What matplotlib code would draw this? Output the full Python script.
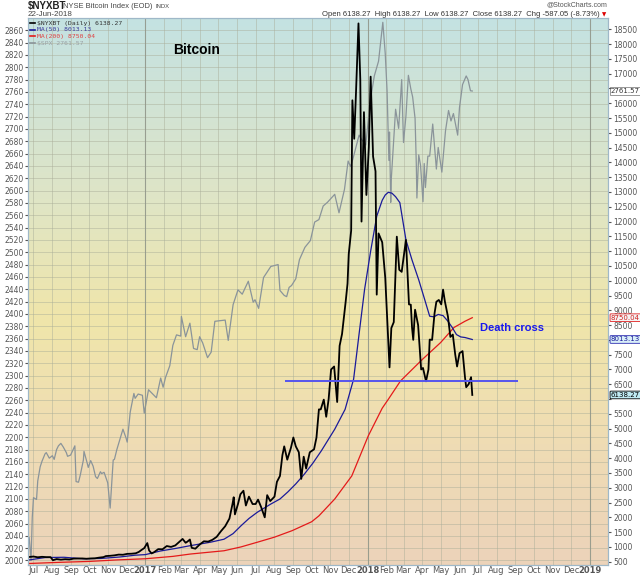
import matplotlib
matplotlib.use("Agg")
import matplotlib.pyplot as plt
from matplotlib.colors import LinearSegmentedColormap
from matplotlib.lines import Line2D
from matplotlib.transforms import blended_transform_factory
import numpy as np
import pandas as pd

# ---- values ----
spx_dates = [
    "2016-06-24", "2016-06-27", "2016-06-29", "2016-07-01", "2016-07-06", "2016-07-08", "2016-07-12",
    "2016-07-15", "2016-07-20", "2016-07-22", "2016-07-27", "2016-08-01", "2016-08-04", "2016-08-08",
    "2016-08-11", "2016-08-15", "2016-08-19", "2016-08-24", "2016-08-26", "2016-08-31", "2016-09-07",
    "2016-09-09", "2016-09-13", "2016-09-16", "2016-09-21", "2016-09-22", "2016-09-27", "2016-09-29",
    "2016-10-03", "2016-10-07", "2016-10-11", "2016-10-14", "2016-10-19", "2016-10-21", "2016-10-25",
    "2016-10-31", "2016-11-04", "2016-11-07", "2016-11-09", "2016-11-11", "2016-11-15", "2016-11-22",
    "2016-11-25", "2016-11-30", "2016-12-02", "2016-12-07", "2016-12-13", "2016-12-15", "2016-12-20",
    "2016-12-27", "2016-12-30", "2017-01-06", "2017-01-12", "2017-01-19", "2017-01-26", "2017-01-30",
    "2017-02-03", "2017-02-10", "2017-02-15", "2017-02-21", "2017-02-28", "2017-03-01", "2017-03-08",
    "2017-03-15", "2017-03-21", "2017-03-27", "2017-03-31", "2017-04-05", "2017-04-13", "2017-04-19",
    "2017-04-25", "2017-05-03", "2017-05-12", "2017-05-17", "2017-05-25", "2017-06-02", "2017-06-09",
    "2017-06-19", "2017-06-27", "2017-06-30", "2017-07-06", "2017-07-14", "2017-07-26", "2017-08-07",
    "2017-08-10", "2017-08-17", "2017-08-21", "2017-08-25", "2017-08-29", "2017-09-05", "2017-09-11",
    "2017-09-20", "2017-09-29", "2017-10-06", "2017-10-13", "2017-10-20", "2017-10-27", "2017-11-08",
    "2017-11-15", "2017-11-24", "2017-11-30", "2017-12-04", "2017-12-08", "2017-12-18", "2017-12-22",
    "2017-12-29", "2018-01-05", "2018-01-12", "2018-01-19", "2018-01-26", "2018-01-30", "2018-02-02",
    "2018-02-05", "2018-02-06", "2018-02-08", "2018-02-09", "2018-02-14", "2018-02-16", "2018-02-21",
    "2018-02-26", "2018-03-01", "2018-03-05", "2018-03-09", "2018-03-13", "2018-03-16", "2018-03-20",
    "2018-03-22", "2018-03-23", "2018-03-26", "2018-03-29", "2018-04-02", "2018-04-04", "2018-04-06",
    "2018-04-10", "2018-04-13", "2018-04-18", "2018-04-24", "2018-04-27", "2018-05-03", "2018-05-09",
    "2018-05-14", "2018-05-18", "2018-05-22", "2018-05-29", "2018-06-01", "2018-06-06", "2018-06-12",
    "2018-06-15", "2018-06-19", "2018-06-22",
]
spx_close = [
    2037, 2000, 2070, 2102, 2099, 2129, 2152,
    2161, 2173, 2175, 2166, 2170, 2164, 2180,
    2186, 2190, 2184, 2175, 2169, 2171, 2186,
    2128, 2127, 2139, 2163, 2177, 2159, 2151,
    2162, 2153, 2136, 2133, 2144, 2141, 2143,
    2126, 2085, 2131, 2163, 2164, 2180, 2203,
    2213, 2199, 2192, 2241, 2271, 2263, 2270,
    2268, 2239, 2277, 2271, 2264, 2296, 2281,
    2297, 2316, 2349, 2366, 2364, 2396, 2363,
    2385, 2344, 2342, 2363, 2353, 2329, 2338,
    2388, 2389, 2390, 2357, 2415, 2439, 2432,
    2453, 2419, 2423, 2409, 2459, 2477, 2480,
    2438, 2430, 2428, 2443, 2446, 2457, 2488,
    2508, 2519, 2549, 2553, 2575, 2581, 2594,
    2564, 2602, 2648, 2639, 2652, 2690, 2683,
    2674, 2743, 2786, 2810, 2873, 2822, 2762,
    2649, 2695, 2581, 2620, 2699, 2732, 2701,
    2780, 2678, 2721, 2787, 2765, 2752, 2717,
    2644, 2588, 2658, 2641, 2582, 2644, 2605,
    2656, 2656, 2708, 2635, 2670, 2630, 2697,
    2730, 2713, 2725, 2690, 2735, 2772, 2786,
    2780, 2762, 2761.57,
]

btc_dates = [
    "2016-06-24", "2016-07-01", "2016-07-08", "2016-07-15", "2016-07-22", "2016-07-29", "2016-08-02",
    "2016-08-08", "2016-08-15", "2016-08-22", "2016-08-29", "2016-09-05", "2016-09-12", "2016-09-19",
    "2016-09-26", "2016-10-03", "2016-10-10", "2016-10-17", "2016-10-24", "2016-10-28", "2016-11-04",
    "2016-11-11", "2016-11-18", "2016-11-25", "2016-12-02", "2016-12-09", "2016-12-16", "2016-12-21",
    "2016-12-25", "2016-12-30", "2017-01-04", "2017-01-07", "2017-01-11", "2017-01-15", "2017-01-22",
    "2017-01-29", "2017-02-05", "2017-02-12", "2017-02-19", "2017-02-26", "2017-03-03", "2017-03-08",
    "2017-03-11", "2017-03-15", "2017-03-18", "2017-03-24", "2017-03-31", "2017-04-07", "2017-04-14",
    "2017-04-21", "2017-04-28", "2017-05-05", "2017-05-12", "2017-05-19", "2017-05-24", "2017-05-26",
    "2017-05-28", "2017-06-02", "2017-06-06", "2017-06-11", "2017-06-15", "2017-06-20", "2017-06-26",
    "2017-07-01", "2017-07-05", "2017-07-10", "2017-07-16", "2017-07-20", "2017-07-25", "2017-08-01",
    "2017-08-05", "2017-08-10", "2017-08-14", "2017-08-17", "2017-08-22", "2017-08-28", "2017-09-01",
    "2017-09-05", "2017-09-10", "2017-09-14", "2017-09-18", "2017-09-22", "2017-09-28", "2017-10-05",
    "2017-10-09", "2017-10-13", "2017-10-16", "2017-10-21", "2017-10-25", "2017-10-29", "2017-11-02",
    "2017-11-07", "2017-11-12", "2017-11-16", "2017-11-20", "2017-11-26", "2017-11-29", "2017-12-01",
    "2017-12-05", "2017-12-07", "2017-12-10", "2017-12-13", "2017-12-17", "2017-12-20", "2017-12-22",
    "2017-12-26", "2017-12-30", "2018-01-03", "2018-01-06", "2018-01-10", "2018-01-14", "2018-01-16",
    "2018-01-19", "2018-01-25", "2018-01-30", "2018-02-02", "2018-02-06", "2018-02-09", "2018-02-13",
    "2018-02-18", "2018-02-22", "2018-02-26", "2018-03-05", "2018-03-10", "2018-03-13", "2018-03-15",
    "2018-03-17", "2018-03-20", "2018-03-25", "2018-03-30", "2018-04-02", "2018-04-07", "2018-04-11",
    "2018-04-13", "2018-04-17", "2018-04-21", "2018-04-24", "2018-04-28", "2018-05-02", "2018-05-05",
    "2018-05-08", "2018-05-13", "2018-05-17", "2018-05-21", "2018-05-25", "2018-05-28", "2018-06-01",
    "2018-06-06", "2018-06-10", "2018-06-12", "2018-06-16", "2018-06-20", "2018-06-22",
]
btc_close = [
    660, 675, 650, 665, 655, 655, 550,
    590, 570, 585, 575, 605, 608, 610,
    600, 610, 615, 638, 655, 690, 700,
    715, 740, 735, 765, 770, 785, 830,
    890, 960, 1130, 880, 780, 820, 925,
    920, 1030, 1000, 1050, 1180, 1270, 1140,
    1180, 1250, 970, 940, 1080, 1190, 1180,
    1240, 1340, 1530, 1700, 1960, 2450, 2680,
    2100, 2450, 2780, 2900, 2400, 2700, 2450,
    2450, 2600, 2350, 2000, 2750, 2550, 2700,
    3200, 3400, 4100, 4400, 3950, 4350, 4700,
    4400, 4200, 3300, 4050, 3650, 4200, 4300,
    4700, 5650, 5650, 5980, 5400, 6000, 7000,
    7100, 5900, 7800, 8200, 9300, 9900, 10900,
    11700, 16100, 14800, 16400, 18700, 16800, 12000,
    15700, 12900, 14500, 16900, 14200, 13700, 9530,
    11600, 11300, 10100, 8800, 7070, 8400, 8600,
    11490, 10370, 10300, 11380, 9200, 9190, 8420,
    8000, 9020, 8500, 7000, 7050, 6600, 7000,
    8010, 8000, 8900, 9290, 9350, 9200, 9700,
    9300, 8790, 8100, 8180, 7500, 7100, 7550,
    7620, 6740, 6400, 6500, 6740, 6138.27,
]

ma50_dates = [
    "2016-06-24", "2016-07-20", "2016-08-20", "2016-09-20", "2016-10-20", "2016-11-20", "2016-12-15",
    "2017-01-01", "2017-01-25", "2017-02-20", "2017-03-15", "2017-04-18", "2017-05-10", "2017-05-25",
    "2017-06-07", "2017-06-20", "2017-07-04", "2017-07-26", "2017-08-10", "2017-08-23", "2017-09-05",
    "2017-09-19", "2017-10-03", "2017-10-17", "2017-11-08", "2017-11-25", "2017-12-09", "2017-12-18",
    "2017-12-27", "2018-01-06", "2018-01-16", "2018-01-25", "2018-01-30", "2018-02-04", "2018-02-10",
    "2018-02-16", "2018-02-23", "2018-03-05", "2018-03-15", "2018-03-26", "2018-04-05", "2018-04-13",
    "2018-04-20", "2018-04-27", "2018-05-05", "2018-05-13", "2018-05-20", "2018-05-27", "2018-06-03",
    "2018-06-10", "2018-06-22",
]
ma50_vals = [
    560, 640, 650, 600, 610, 660, 720,
    740, 860, 950, 1040, 1160, 1260, 1450,
    1715, 1960, 2175, 2450, 2620, 2860, 3130,
    3460, 3830, 4250, 4980, 5650, 6670, 8200,
    9700, 11000, 12180, 12720, 12900, 12990, 12960,
    12840, 12640, 11380, 10700, 10030, 9350, 8800,
    8780, 8860, 8820, 8630, 8420, 8180, 8100,
    8080, 8013.13,
]

ma200_dates = [
    "2016-06-24", "2016-08-15", "2016-10-01", "2016-11-15", "2017-01-01", "2017-02-15", "2017-03-16",
    "2017-05-10", "2017-06-07", "2017-07-04", "2017-08-01", "2017-08-30", "2017-10-01", "2017-10-13",
    "2017-11-08", "2017-12-06", "2018-01-02", "2018-01-25", "2018-02-04", "2018-02-24", "2018-04-01",
    "2018-05-01", "2018-05-23", "2018-06-10", "2018-06-22",
]
ma200_vals = [
    440, 480, 510, 560, 600, 680, 760,
    870, 1000, 1160, 1330, 1550, 1850, 2050,
    2620, 3400, 4750, 5690, 5990, 6610, 7340,
    7910, 8420, 8630, 8750.04,
]

support_level = 6600
support_start, support_end = "2017-08-18", "2018-09-05"

left_ticks = list(range(2000, 2861, 20))
right_ticks = list(range(500, 18501, 500))
hidden_right = [6000, 8000, 16500]  # covered by the value boxes in the original

# ---- figure layout (pixel geometry of the original) ----
W, H = 640, 576
L, R, T, B = 28, 608, 18, 565
fig = plt.figure(figsize=(W / 100, H / 100), dpi=100)
fig.patch.set_facecolor("white")
pos = [L / W, 1 - B / H, (R - L) / W, (B - T) / H]

# gradient background
bg = fig.add_axes(pos, zorder=0)
grad_cmap = LinearSegmentedColormap.from_list(
    "sc", [(0.0, "#c4e2e2"), (0.33, "#dfe5c6"), (0.55, "#f0e6aa"), (0.78, "#efdcb4"), (1.0, "#ecd3ba")])
bg.imshow(np.linspace(0, 1, 256).reshape(-1, 1), aspect="auto", cmap=grad_cmap,
          extent=[0, 1, 0, 1], origin="upper")
bg.axis("off")

ax = fig.add_axes(pos, zorder=1)
ax.patch.set_visible(False)
ax2 = ax.twinx()

x0 = pd.Timestamp("2016-06-22")
x1 = pd.Timestamp("2019-01-31")

ax.plot(pd.to_datetime(spx_dates), spx_close, color="#8a949a", lw=0.9)
ax2.plot(pd.to_datetime(ma200_dates), ma200_vals, color="#e41a1a", lw=0.9)
ax2.plot(pd.to_datetime(ma50_dates), ma50_vals, color="#1a1a9a", lw=0.9)
ax2.plot(pd.to_datetime(btc_dates), btc_close, color="black", lw=1.3)
ax2.hlines(support_level, pd.Timestamp(support_start), pd.Timestamp(support_end),
           color="#5555ee", lw=1.4)

ax.set_xlim(x0, x1)
ax.set_ylim(1992.7, 2880)
ax2.set_ylim(388.6, 18883)

# x axis: month ticks, bold year for January
months = pd.date_range("2016-07-01", "2019-01-01", freq="MS")
ax.set_xticks(months)
ax.set_xticklabels([m.strftime("%Y") if m.month == 1 else m.strftime("%b") for m in months])
for lbl, m in zip(ax.get_xticklabels(), months):
    if m.month == 1:
        lbl.set_fontweight("bold")
        lbl.set_color("#222222")
ax.tick_params(axis="x", labelsize=6, colors="#555555", length=0, pad=1)
ax.set_yticks(left_ticks)
ax.tick_params(axis="y", labelsize=5.5, colors="#555555", length=2, pad=1)
ax2.set_yticks(right_ticks)
ax2.set_yticklabels(["" if v in hidden_right else str(v) for v in right_ticks])
ax2.tick_params(axis="y", labelsize=5.5, colors="#555555", length=2, pad=2)

ax.grid(True, color="#a9ad98", alpha=0.55, lw=0.6)
for m in months:
    if m.month == 1:
        ax.axvline(m, color="#8e9488", lw=0.8, alpha=0.8)

for a in (ax, ax2):
    for s in a.spines.values():
        s.set_color("#9fb8c8")
        s.set_linewidth(0.8)

# annotations
ax2.text(pd.Timestamp("2018-07-05"), 8400, "Death cross",
         color="#1a1aee", fontsize=8, fontweight="bold", family="Liberation Sans", va="center")
fig.text(197 / W, 1 - 50 / H, "Bitcoin", fontsize=10, fontweight="bold",
         family="Liberation Sans", ha="center", va="center")

# right side value boxes
tr2 = blended_transform_factory(ax2.transAxes, ax2.transData)
tr1 = blended_transform_factory(ax.transAxes, ax.transData)
box_kw = dict(fontsize=5, va="center", ha="left", clip_on=False, zorder=5)
ax.text(1.005, spx_close[-1], f"{spx_close[-1]:.2f}", transform=tr1, color="#333333",
        bbox=dict(boxstyle="square,pad=0.12", fc="white", ec="#888888", lw=0.6), **box_kw)
ax2.text(1.005, ma200_vals[-1], f"{ma200_vals[-1]:.2f}", transform=tr2, color="#d02020",
         bbox=dict(boxstyle="round,pad=0.12", fc="#f4f4f4", ec="#e02020", lw=0.6), **box_kw)
ax2.text(1.005, ma50_vals[-1], f"{ma50_vals[-1]:.2f}", transform=tr2, color="#1a1a9a",
         bbox=dict(boxstyle="round,pad=0.12", fc="#d8eef8", ec="#2a2ab0", lw=0.6), **box_kw)
ax2.text(1.005, btc_close[-1], f"{btc_close[-1]:.2f}", transform=tr2, color="black",
         bbox=dict(boxstyle="round,pad=0.12", fc="#bfeaf2", ec="black", lw=0.6), **box_kw)

# legend block in top-left corner
legend_rows = [
    ("$NYXBT (Daily) 6138.27", "black", "#333333"),
    ("MA(50) 8013.13", "#1a1a9a", "#3a3a9a"),
    ("MA(200) 8750.04", "#e41a1a", "#e04040"),
    ("$SPX 2761.57", "#8a949a", "#9aa0a4"),
]
for i, (txt, lc, tc) in enumerate(legend_rows):
    yy = 1 - (23 + i * 6.7) / H
    fig.lines.append(Line2D([30 / W, 35 / W], [yy, yy], transform=fig.transFigure, color=lc, lw=1.2))
    fig.text(37 / W, yy, txt, color=tc, fontsize=4.6, family="DejaVu Sans Mono", va="center")

# header
fig.text(28 / W, 1 - 6 / H, "$NYXBT", fontsize=7, fontweight="bold", family="Liberation Sans",
         va="center", color="#222222")
fig.text(63 / W, 1 - 6 / H, "NYSE Bitcoin Index (EOD)", fontsize=5.4, family="Liberation Sans",
         va="center", color="#444444")
fig.text(155 / W, 1 - 6 / H, "INDX", fontsize=4.2, family="Liberation Sans", va="center",
         color="#444444")
fig.text(28 / W, 1 - 14.5 / H, "22-Jun-2018", fontsize=5.8, family="Liberation Sans", va="center",
         color="#444444")
fig.text(607 / W, 1 - 5 / H, "@StockCharts.com", fontsize=5, family="Liberation Sans", ha="right",
         va="center", color="#555555")
fig.text(600 / W, 1 - 14.5 / H,
         "Open 6138.27  High 6138.27  Low 6138.27  Close 6138.27  Chg -587.05 (-8.73%)",
         fontsize=5.5, family="Liberation Sans", ha="right", va="center", color="#333333")
fig.text(602 / W, 1 - 14.5 / H, "\u25bc", fontsize=4, color="#dd0000", ha="left", va="center")

plt.savefig("out.png", dpi=100)
